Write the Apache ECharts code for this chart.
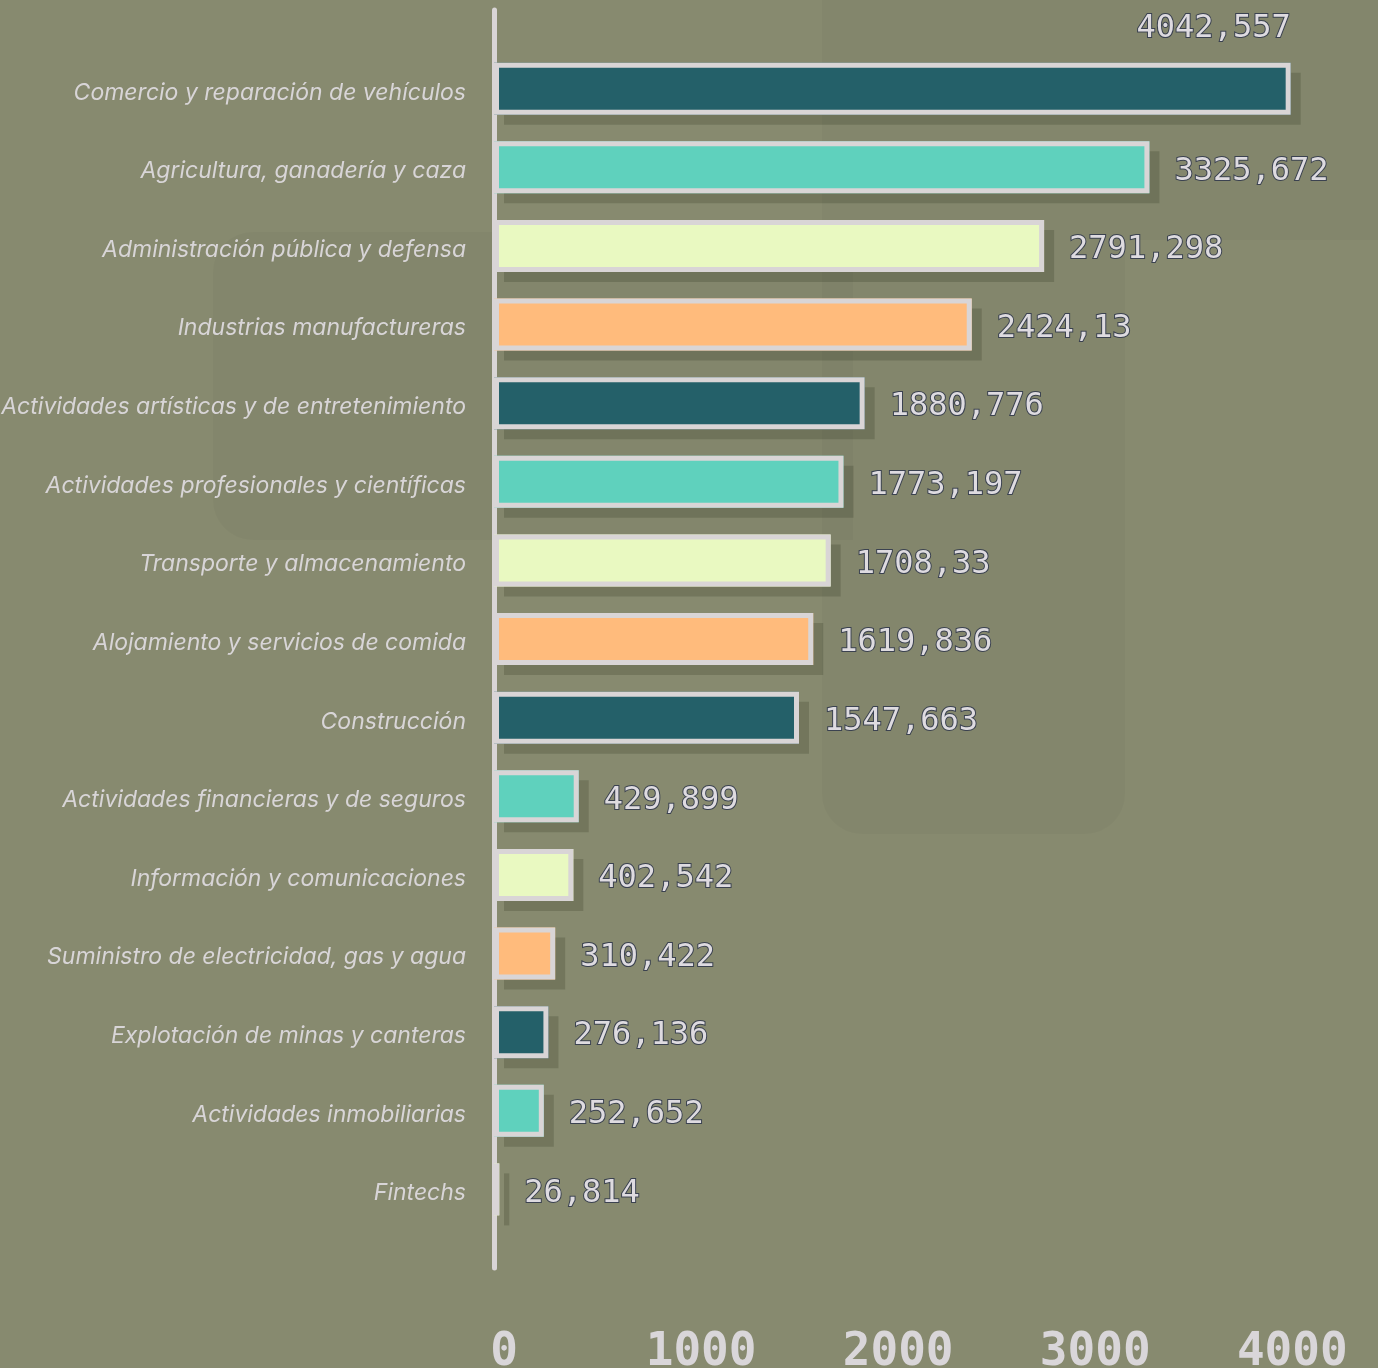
<!DOCTYPE html>
<html lang="es">
<head>
<meta charset="utf-8">
<title>Sectores</title>
<script src="https://cdn.jsdelivr.net/npm/echarts@6/dist/echarts.min.js"></script>
<style>
  html, body { margin: 0; padding: 0; background: #878a6f; }
  #chart { width: 1378px; height: 1368px; }
</style>
</head>
<body>
<div id="chart"></div>
<script>
// Sectors, top to bottom
const categories = [
  'Comercio y reparación de vehículos',
  'Agricultura, ganadería y caza',
  'Administración pública y defensa',
  'Industrias manufactureras',
  'Actividades artísticas y de entretenimiento',
  'Actividades profesionales y científicas',
  'Transporte y almacenamiento',
  'Alojamiento y servicios de comida',
  'Construcción',
  'Actividades financieras y de seguros',
  'Información y comunicaciones',
  'Suministro de electricidad, gas y agua',
  'Explotación de minas y canteras',
  'Actividades inmobiliarias',
  'Fintechs'
];

const values = [
  4042.557, 3325.672, 2791.298, 2424.13, 1880.776,
  1773.197, 1708.33, 1619.836, 1547.663, 429.899,
  402.542, 310.422, 276.136, 252.652, 26.814
];

const tickValues = [0, 1000, 2000, 3000, 4000];

const palette = ['#246069', '#5fd1bd', '#e9f9c1', '#ffbb7c'];

const BORDER = '#d9d5d6';
const TEXT = '#d8d5d7';

// blank slots above and below so the axis line runs past the first and last bar
const yCats = [''].concat(categories, ['']);

const fmt = v => String(v).replace('.', ',');

const valueLabel = {
  show: true,
  position: 'right',
  distance: 25,
  offset: [0, 4],
  fontFamily: 'DejaVu Sans Mono',
  fontSize: 32,
  color: '#dedbe0',
  textBorderColor: '#3b4250',
  textBorderWidth: 2,
  formatter: p => fmt(p.value)
};

const fillData = [null].concat(values.map((v, i) => {
  const item = { value: v, itemStyle: { color: palette[i % palette.length] } };
  if (i === 0) {
    // the longest bar carries its figure above its right end
    item.label = {
      position: ['100%', 0],
      align: 'right',
      verticalAlign: 'bottom',
      offset: [0, -18]
    };
  }
  return item;
}), [null]);

const frameData = [null].concat(values, [null]);

const chart = echarts.init(document.getElementById('chart'), null, { renderer: 'canvas' });

chart.setOption({
  backgroundColor: '#878a6f',
  animation: false,
  graphic: [
    { type: 'rect', silent: true, z: -10,
      shape: { x: 213, y: 232, width: 640, height: 308, r: [40, 0, 0, 40] },
      style: { fill: 'rgba(0,0,0,0.024)' } },
    { type: 'rect', silent: true, z: -10,
      shape: { x: 822, y: 0, width: 303, height: 834, r: [0, 0, 40, 40] },
      style: { fill: 'rgba(0,0,0,0.024)' } },
    { type: 'rect', silent: true, z: -10,
      shape: { x: 1125, y: 0, width: 253, height: 240, r: [0, 0, 0, 0] },
      style: { fill: 'rgba(0,0,0,0.024)' } }
  ],
  grid: {
    left: 494, right: 76, top: 10, bottom: 100,
    containLabel: false,
    outerBoundsMode: 'none'
  },
  xAxis: {
    type: 'value',
    min: tickValues[0],
    max: 4100,
    interval: tickValues[1] - tickValues[0],
    axisLine: { show: false },
    axisTick: { show: false },
    splitLine: { show: false },
    axisLabel: {
      showMaxLabel: false,
      margin: 62,
      padding: [0, 0, 0, 20],
      fontFamily: 'DejaVu Sans Mono',
      fontWeight: 'bold',
      fontSize: 46,
      color: '#d9d6d9',
      formatter: v => (tickValues.indexOf(v) >= 0 ? String(v) : '')
    }
  },
  yAxis: {
    type: 'category',
    data: yCats,
    inverse: true,
    boundaryGap: false,
    axisLine: { show: true, lineStyle: { color: BORDER, width: 5 } },
    axisTick: { show: false },
    splitLine: { show: false },
    axisLabel: {
      interval: 0,
      margin: 28,
      formatter: v => (v ? '{c|' + v + '}' : ''),
      rich: {
        c: {
          padding: [8, 0, 0, 0],
          fontFamily: 'Inter',
          fontStyle: 'italic',
          fontSize: 23,
          color: TEXT
        }
      }
    }
  },
  series: [
    {
      name: 'fill',
      type: 'bar',
      barWidth: 52,
      barGap: '-100%',
      data: fillData,
      itemStyle: {
        shadowColor: 'rgba(35,38,20,0.2)',
        shadowBlur: 0,
        shadowOffsetX: 10,
        shadowOffsetY: 10
      },
      label: valueLabel,
      z: 2
    },
    {
      name: 'frame',
      type: 'bar',
      barWidth: 52,
      barGap: '-100%',
      silent: true,
      data: frameData,
      itemStyle: {
        color: 'rgba(0,0,0,0)',
        borderColor: BORDER,
        borderWidth: 5
      },
      z: 3
    }
  ]
});
</script>
</body>
</html>
